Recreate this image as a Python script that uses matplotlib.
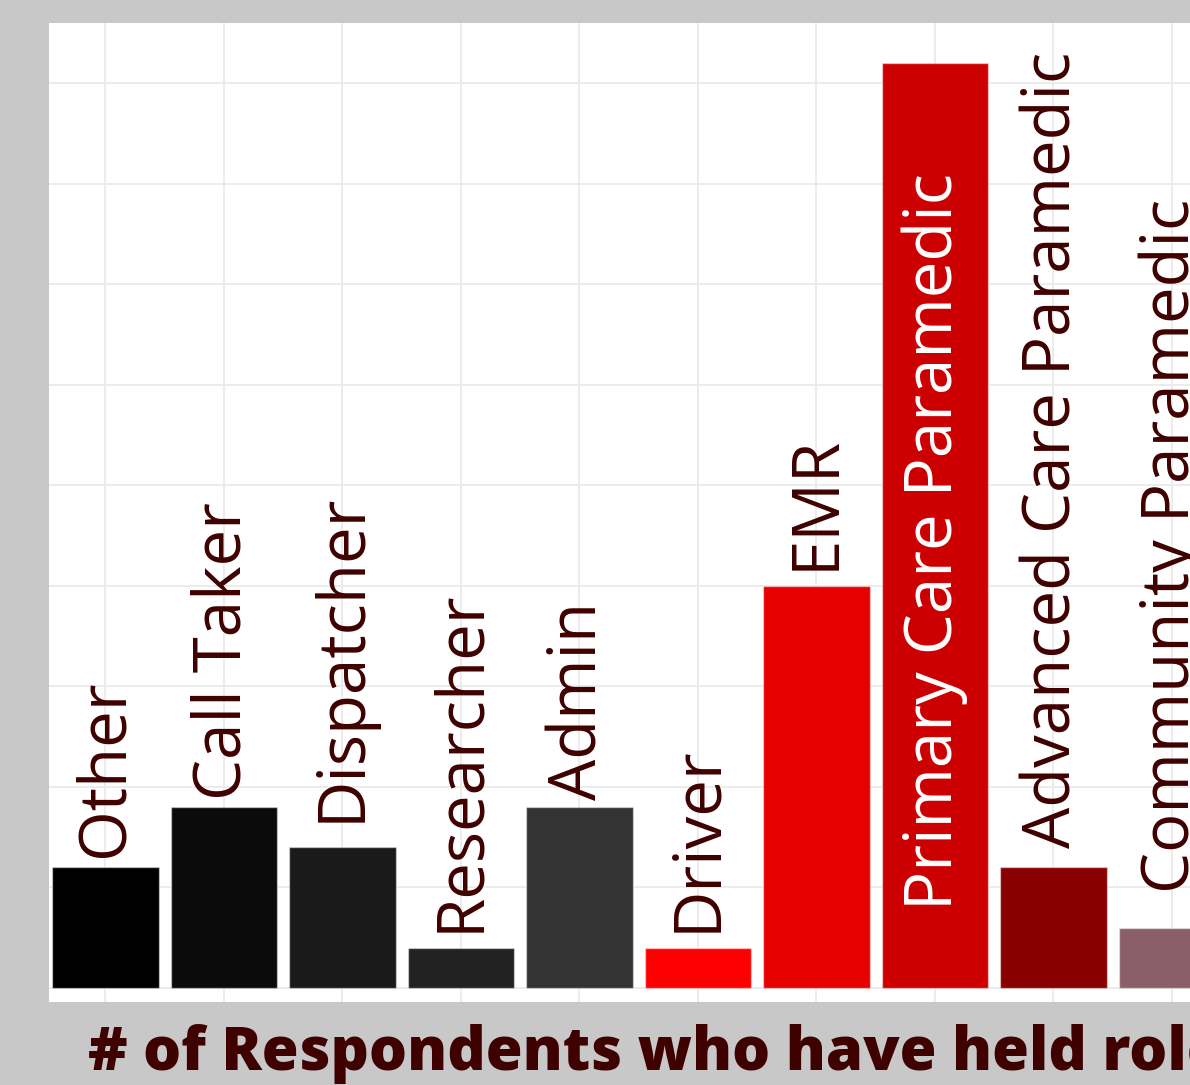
import matplotlib
matplotlib.use("Agg")
import matplotlib.pyplot as plt

# ---- data ----
roles = ["Other", "Call Taker", "Dispatcher", "Researcher", "Admin", "Driver",
         "EMR", "Primary Care Paramedic", "Advanced Care Paramedic", "Community Paramedic"]
counts = [6, 9, 7, 2, 9, 2, 20, 46, 6, 3]
bar_colors = ["#000000", "#0b0b0b", "#1a1a1a", "#222222", "#333333", "#ff0000",
              "#e60000", "#cc0000", "#880000", "#8b5f69"]
title_text = "# of Respondents who have held role"

# ---- styling ----
label_offsets = [0.5, 0.35, 1.25, 0.78, 0.35, 0.78, 0.8, None, 0.97, 1.73]
inside_label_y = 3.9
text_color = "#3f0000"
bg = "#c8c8c8"
W, H = 1190, 1085

fig = plt.figure(figsize=(W / 100, H / 100), dpi=100, facecolor=bg)

px_per_x = 118.5
xl = (-0.48, 9.6)
ax_w = (xl[1] - xl[0]) * px_per_x
left_px, top_px, bottom_px = 48.5, 23, 1002
ax = fig.add_axes([left_px / W, (H - bottom_px) / H, ax_w / W, (bottom_px - top_px) / H])
ax.set_facecolor("white")
ax.set_xlim(*xl)
ax.set_ylim(-0.70, 48.0)

x = list(range(len(roles)))
ax.bar(x, counts, width=0.9, color=bar_colors, edgecolor=(1, 1, 1, 0.45), linewidth=1.0, zorder=2)

ax.set_yticks(range(0, 50, 5))
ax.set_xticks(x)
ax.grid(True, color="#ebebeb", linewidth=1.3, zorder=0)
ax.set_axisbelow(True)
ax.tick_params(length=0, labelbottom=False, labelleft=False)
for s in ax.spines.values():
    s.set_visible(False)

for i, (r, c) in enumerate(zip(roles, counts)):
    off = label_offsets[i]
    if off is None:
        y, col = inside_label_y, "white"
    else:
        y, col = c + off, text_color
    ax.text(i, y, r, rotation=90, rotation_mode="anchor", ha="left", va="center",
            fontsize=47, family="Open Sans", color=col, zorder=3, clip_on=False)

fig.text(88 / W, (H - 1070) / H, title_text, ha="left", va="baseline",
         fontsize=43, family="Open Sans", fontweight="heavy", color=text_color)

fig.savefig("out.png", dpi=100, facecolor=bg)
